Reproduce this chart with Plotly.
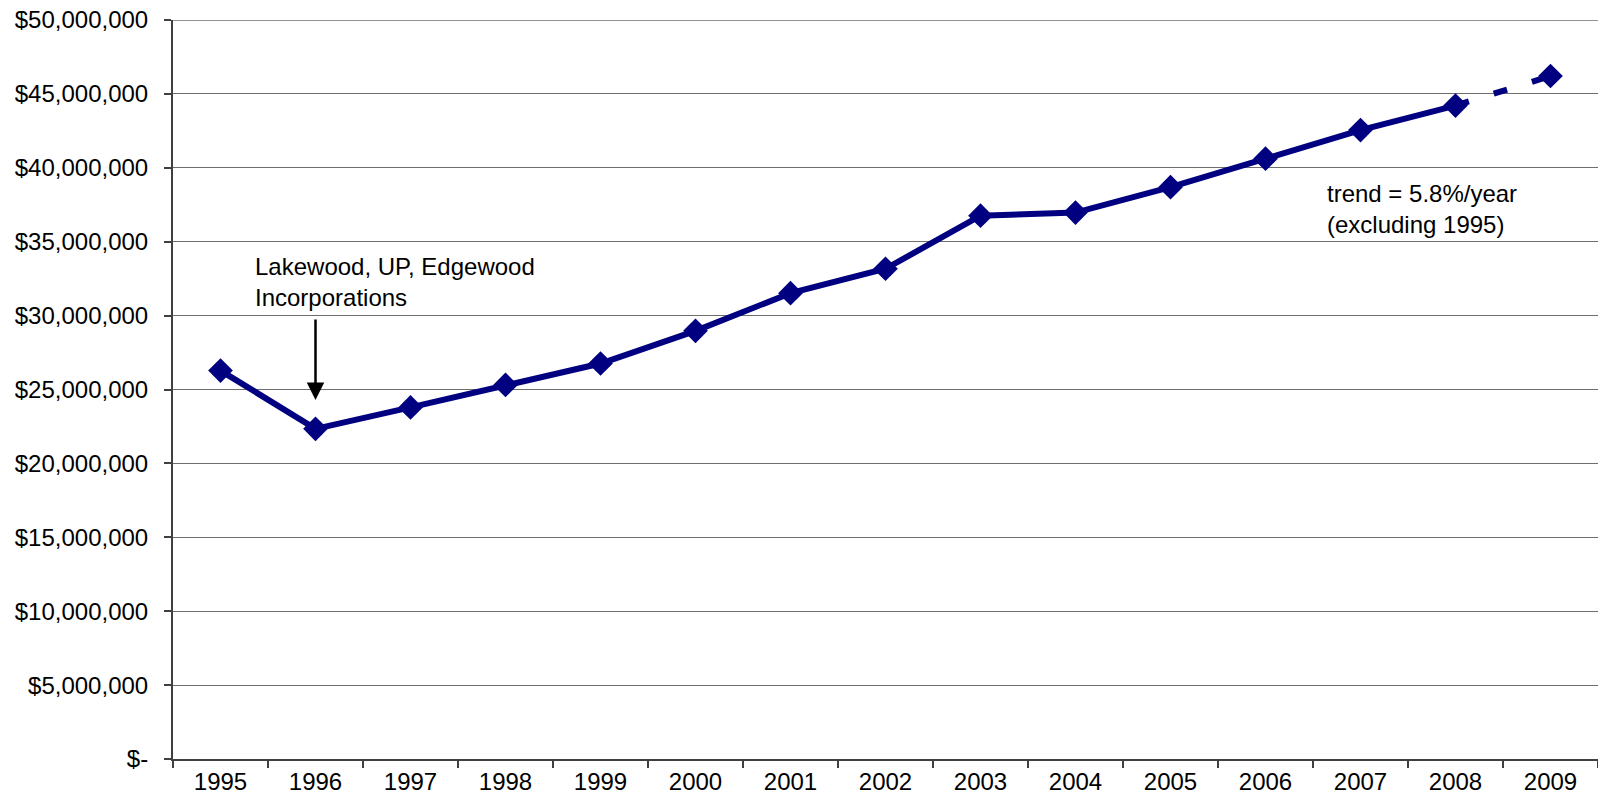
import plotly.graph_objects as go

years = [str(y) for y in range(1995, 2010)]
values = [26.28, 22.34, 23.79, 25.31, 26.76, 28.97, 31.52, 33.17, 36.76, 36.97,
          38.69, 40.62, 42.55, 44.21, 46.21]
values = [v * 1e6 for v in values]

ytick_vals = [i * 5e6 for i in range(11)]
ytick_text = ["$-"] + ["${:,.0f}".format(v) for v in ytick_vals[1:]]

navy = "#000080"
font = "Liberation Sans, Arial, sans-serif"
fs = 24

fig = go.Figure()
fig.add_trace(go.Scatter(
    x=years[:-1], y=values[:-1], mode="lines+markers",
    line=dict(color=navy, width=6),
    marker=dict(symbol="diamond", size=19, color=navy),
    showlegend=False, hoverinfo="x+y"))
fig.add_trace(go.Scatter(
    x=years[-2:], y=values[-2:], mode="lines",
    line=dict(color=navy, width=6, dash="14px,26px"),
    showlegend=False, hoverinfo="skip"))
fig.add_trace(go.Scatter(
    x=years[-1:], y=values[-1:], mode="markers",
    marker=dict(symbol="diamond", size=19, color=navy),
    showlegend=False, hoverinfo="x+y"))

arrow_top = 29.84e6
arrow_bottom = 24.29e6
i1996 = years.index("1996")

fig.add_annotation(
    x=i1996, y=arrow_bottom, ax=i1996, ay=arrow_top,
    xref="x", yref="y", axref="x", ayref="y",
    showarrow=True, arrowhead=2, arrowsize=1.4, arrowwidth=2.5, arrowcolor="black",
    text="")
fig.add_annotation(
    x=years.index("1995"), y=32.24e6, xref="x", yref="y",
    text="Lakewood, UP, Edgewood<br>Incorporations",
    showarrow=False, xanchor="left", yanchor="middle", align="left",
    xshift=32,
    font=dict(family=font, size=fs, color="black"))
fig.add_annotation(
    x=years.index("2007"), y=37.21e6, xref="x", yref="y",
    text="trend = 5.8%/year<br>(excluding 1995)",
    showarrow=False, xanchor="left", yanchor="middle", align="left",
    xshift=-36,
    font=dict(family=font, size=fs, color="black"))

# top gridline at the upper edge of the plot area
fig.add_shape(type="line", xref="paper", yref="y", x0=0, x1=1,
              y0=ytick_vals[-1], y1=ytick_vals[-1],
              line=dict(color="#6e6e6e", width=1.5), layer="below")

fig.update_layout(
    width=1598, height=805,
    margin=dict(l=173, r=0, t=20, b=46),
    plot_bgcolor="white", paper_bgcolor="white",
    font=dict(family=font, size=fs, color="black"),
    xaxis=dict(
        type="category", range=[-0.5, len(years) - 0.5], automargin=False,
        tickson="boundaries", ticks="outside", ticklen=7,
        tickcolor="#404040", tickwidth=1.5, tickangle=0,
        showline=True, linecolor="#404040", linewidth=2,
        showgrid=False, zeroline=False, ticklabeloverflow="allow",
        tickfont=dict(family=font, size=fs, color="black")),
    yaxis=dict(
        range=[0, 50e6], tickvals=ytick_vals, ticktext=ytick_text, automargin=False,
        ticks="outside", ticklen=7, tickcolor="#404040", tickwidth=1.5,
        showline=True, linecolor="#404040", linewidth=2,
        showgrid=True, gridcolor="#6e6e6e", gridwidth=1, zeroline=False,
        ticklabelstandoff=11, ticklabeloverflow="allow",
        tickfont=dict(family=font, size=fs, color="black")),
)

fig.write_html("out.html",
               config={"displayModeBar": False},
               post_script="document.body.style.margin='0';"
                           "document.body.style.overflow='hidden';")
